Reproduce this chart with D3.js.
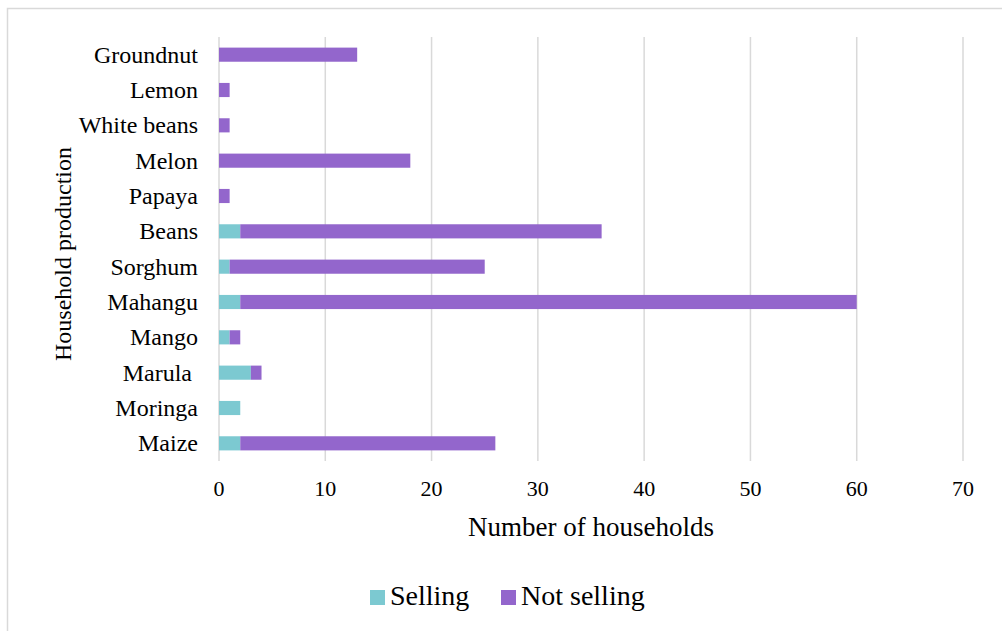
<!DOCTYPE html>
<html>
<head>
<meta charset="utf-8">
<script src="https://cdn.jsdelivr.net/npm/d3@7"></script>
<style>
  body { margin: 0; background: #fff; }
  svg text { font-family: "Liberation Serif", "Times New Roman", serif; fill: #000; }
</style>
</head>
<body>
<div id="viz"></div>
<script>
const crops = ["Groundnut", "Lemon", "White beans", "Melon", "Papaya", "Beans",
    "Sorghum", "Mahangu", "Mango", "Marula\u00a0", "Moringa", "Maize"];
const selling =    [0, 0, 0, 0, 0, 2, 1, 2, 1, 3, 2, 2];
const notSelling = [13, 1, 1, 18, 1, 34, 24, 58, 1, 1, 0, 24];
const xTicks = [0, 10, 20, 30, 40, 50, 60, 70];
const seriesNames = ["Selling", "Not selling"];

const colors = ["#7cc9d1", "#9366cc"];
const serif = "'Liberation Serif', 'Times New Roman', serif";

const width = 1002, height = 631;
const margin = { left: 219, right: 39, top: 37, bottom: 170 };

const svg = d3.select("#viz").append("svg")
    .attr("width", width)
    .attr("height", height)
    .style("font-family", serif);

// outer frame
svg.append("rect")
    .attr("x", 7.5).attr("y", 8.5)
    .attr("width", width).attr("height", height)
    .attr("fill", "none")
    .attr("stroke", "#d9d9d9")
    .attr("stroke-width", 1.5);

const rows = crops.map((c, i) => ({ name: c, "Selling": selling[i], "Not selling": notSelling[i] }));
const stacked = d3.stack().keys(seriesNames)(rows);

const x = d3.scaleLinear()
    .domain([0, 70])
    .range([margin.left, width - margin.right]);

const y = d3.scaleBand()
    .domain(crops)
    .range([margin.top, height - margin.bottom])
    .paddingInner(0.6)
    .paddingOuter(0.3);

// gridlines
svg.selectAll(".grid")
    .data(xTicks)
    .join("line")
        .attr("class", "grid")
        .attr("x1", d => x(d)).attr("x2", d => x(d))
        .attr("y1", margin.top)
        .attr("y2", height - margin.bottom)
        .attr("stroke", "#d9d9d9")
        .attr("stroke-width", 1.5);

// bars
svg.selectAll(".series")
    .data(stacked)
    .join("g")
        .attr("class", "series")
        .attr("fill", (d, i) => colors[i])
    .selectAll("rect")
    .data(d => d)
    .join("rect")
        .attr("x", d => x(d[0]))
        .attr("y", d => y(d.data.name))
        .attr("width", d => x(d[1]) - x(d[0]))
        .attr("height", y.bandwidth());

// category labels
svg.selectAll(".cat")
    .data(crops)
    .join("text")
        .attr("class", "cat")
        .attr("x", margin.left - 21)
        .attr("y", d => y(d) + y.bandwidth() / 2)
        .attr("dy", "0.33em")
        .style("text-anchor", "end")
        .style("white-space", "pre")
        .style("font-family", serif)
        .style("font-size", "24px")
        .text(d => d);

// tick labels
svg.selectAll(".tick-label")
    .data(xTicks)
    .join("text")
        .attr("class", "tick-label")
        .attr("x", d => x(d))
        .attr("y", 496)
        .style("text-anchor", "middle")
        .style("font-family", serif)
        .style("font-size", "22px")
        .text(d => d);

// axis titles
svg.append("text")
    .attr("x", x(35))
    .attr("y", 536)
    .style("text-anchor", "middle")
    .style("font-family", serif)
    .style("font-size", "27px")
    .text("Number of households");

svg.append("text")
    .attr("transform", `translate(71,254) rotate(-90)`)
    .style("text-anchor", "middle")
    .style("font-family", serif)
    .style("font-size", "24px")
    .text("Household production");

// legend
const legend = svg.selectAll(".legend")
    .data(seriesNames)
    .join("g")
        .attr("class", "legend")
        .attr("transform", (d, i) => `translate(${370 + i * 131},590)`);

legend.append("rect")
    .attr("x", 0).attr("y", 0)
    .attr("width", 15).attr("height", 15)
    .attr("fill", (d, i) => colors[i]);

legend.append("text")
    .attr("x", 20)
    .attr("y", 15)
    .style("font-family", serif)
    .style("font-size", "28px")
    .text(d => d);
</script>
</body>
</html>
